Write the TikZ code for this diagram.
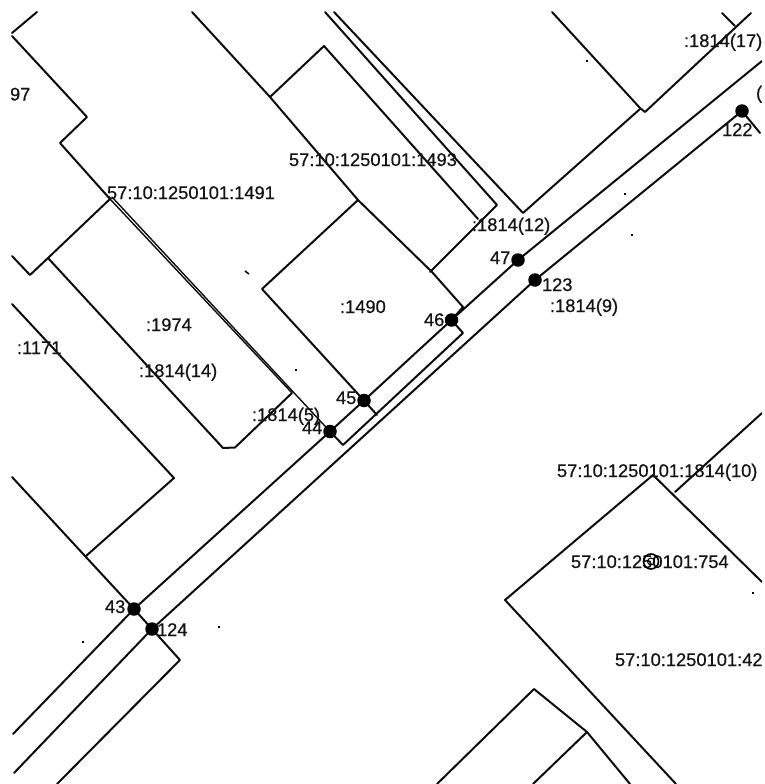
\documentclass[tikz,border=0pt]{standalone}
\usepackage{fontspec}
\setmainfont[FakeBold=0.6]{Liberation Sans}
\tikzset{
  plan/.style={line width=2pt,line join=round,line cap=round,black!95},
  thindouble/.style={line width=1.4pt,line cap=round,black!95},
  lbl/.style={anchor=base west,inner sep=0pt,outer sep=0pt,font=\fontsize{18.3}{20}\selectfont,text=black!92},
  pt/.style={circle,fill=black,inner sep=0pt,minimum size=13.5pt},
  speck/.style={fill=black,inner sep=0pt,minimum size=2pt},
}
\begin{document}
\begin{tikzpicture}[x=1pt,y=-1pt]
\useasboundingbox (0,0) rectangle (765,784);
\fill[white] (0,0) rectangle (765,784);
% survey points
\coordinate (p43) at (134,609);
\coordinate (p44) at (330,431.5);
\coordinate (p45) at (364,400.5);
\coordinate (p46) at (451.5,320);
\coordinate (p47) at (518,260);
\coordinate (p122) at (742,111);
\coordinate (p123) at (535,280);
\coordinate (p124) at (152,629);
\begin{scope}
\clip (11,12) rectangle (762,784);
% road edges
\draw[plan] (13,734) -- (p43) -- (p44) -- (p45) -- (p46) -- (p47) -- (762,61);
\draw[plan] (14,773) -- (p124) -- (p123) -- (p122) -- (760,133);
% upper-left parcels
\draw[plan] (37,12) -- (12,33);
\draw[plan] (12,36) -- (87,117) -- (60,143) -- (110,199);
\draw[thindouble] (112,197) -- (p44);
\draw[thindouble] (110,199) -- (292,393);
\draw[plan] (110,199) -- (48,258) -- (30,275) -- (12,256);
\draw[plan] (48,258) -- (223,448) -- (235,447.5) -- (292,393);
\draw[plan] (12,304) -- (174,478) -- (86,556);
\draw[plan] (12,477) -- (p43) -- (p124) -- (180,660) -- (57,784);
% central parcels
\draw[plan] (192,12) -- (270,97) -- (358,200) -- (432,272) -- (463,307) -- (p46) -- (463,333) -- (343,445) -- (p44);
\draw[plan] (270,97) -- (324,46) -- (478,219);
\draw[plan] (325,12) -- (497,205) -- (430,272);
\draw[plan] (334,12) -- (523,213) -- (640,109);
\draw[plan] (358,200) -- (262,289) -- (p45) -- (377,415);
% upper-right parcels
\draw[plan] (552,12) -- (640,108) -- (645,112) -- (751,13);
\draw[plan] (722,13) -- (735,26);
% lower-right parcels
\draw[plan] (762,413) -- (675,492);
\draw[plan] (762,582) -- (653,475) -- (505,600) -- (676,784);
\draw[plan] (437,784) -- (534,689) -- (587,732) -- (630,784);
\draw[plan] (587,732) -- (533,784);
% labels
\node[lbl] (t97) at (10,100.5) {97};
\node[lbl] (t1491) at (107,199) {57:10:1250101:1491};
\node[lbl] (t1493) at (289,166) {57:10:1250101:1493};
\node[lbl] (t1974) at (146,331) {:1974};
\node[lbl] (t1171) at (17,354) {:1171};
\node[lbl] (t18a) at (139,377) {:1814(14)};
\node[lbl] (t1490) at (340,313) {:1490};
\node[lbl] (t18b) at (684,47) {:1814(17)};
\node[lbl] (t122) at (722,136) {122};
\node[lbl] (t18c) at (472,231) {:1814(12)};
\node[lbl] (t47) at (490,264) {47};
\node[lbl] (t123) at (542,291) {123};
\node[lbl] (t18d) at (550,312) {:1814(9)};
\node[lbl] (t46) at (424,326) {46};
\node[lbl] (t45) at (336,404) {45};
\node[lbl] (t44) at (302,434) {44};
\node[lbl] (t18e) at (252,421) {:1814(5)};
\node[lbl] (t43) at (105,613) {43};
\node[lbl] (t124) at (157,636) {124};
\node[lbl] (t18f) at (557,477) {57:10:1250101:1814(10)};
\node[lbl] (t754) at (571,568) {57:10:1250101:754};
\node[lbl] (t42) at (615,666) {57:10:1250101:42};
\node[lbl] (tcut) at (756,99) {(};
\end{scope}
% point markers
\foreach \p in {43,44,45,46,47,122,123,124}
  \node[pt] (m\p) at (p\p) {};
% ring
\draw[line width=1.6pt] (651,561.5) circle (7.5);
\draw[line width=1pt] (651,561.5) circle (3.5);
% specks
\draw[line width=1.5pt] (245,271) -- (249,274);
\foreach \n/\x/\y in {a/296/370,b/587/61,c/625/194,d/632/235,e/83/642,f/219/627,g/753/593}
  \node[speck] (s\n) at (\x,\y) {};
\end{tikzpicture}
\end{document}
